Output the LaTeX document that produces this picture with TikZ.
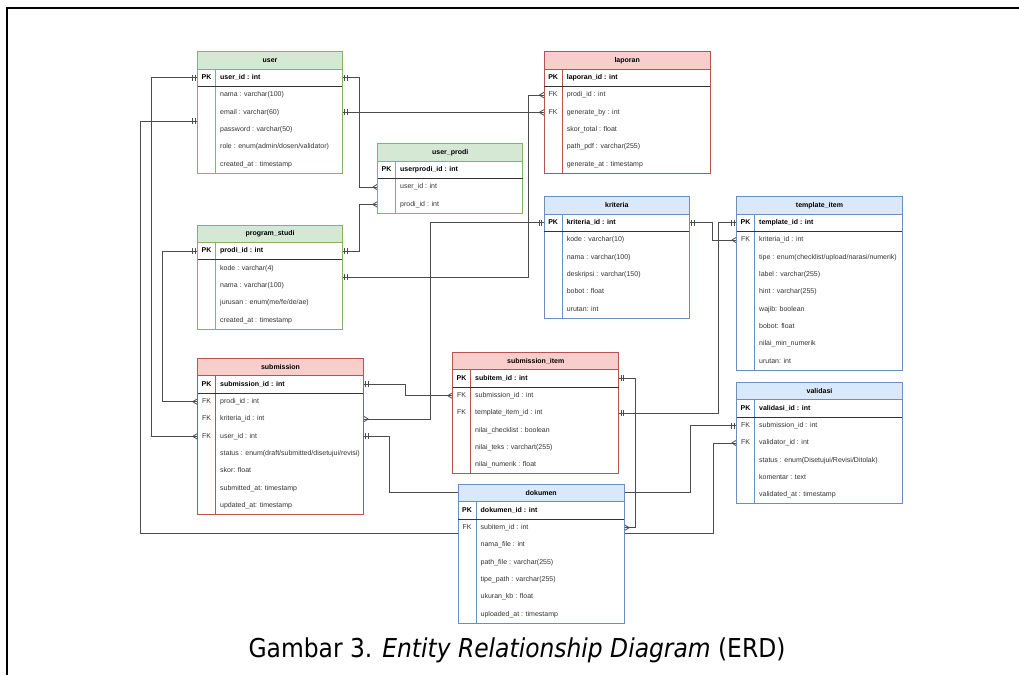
\documentclass[tikz,border=0pt]{standalone}
\usepackage{fontspec}
\usepackage{graphicx}
\setmainfont{Liberation Sans}
\newfontfamily\capfont{DejaVu Sans}
\usetikzlibrary{positioning,decorations.markings}
\definecolor{grfill}{HTML}{D5E8D4}
\definecolor{grline}{HTML}{82B366}
\definecolor{rdfill}{HTML}{F8CECC}
\definecolor{rdline}{HTML}{B85450}
\definecolor{blfill}{HTML}{DAE8FC}
\definecolor{blline}{HTML}{6C8EBF}
\pgfdeclarelayer{lines}
\pgfsetlayers{lines,main}
\tikzset{
	tblhead/.style={rectangle, anchor=north west, minimum height=17.35pt, inner sep=0pt, outer sep=0pt,
		line width=.8pt, font=\fontsize{7}{8}\selectfont\bfseries},
	tblrow/.style={rectangle, minimum height=17.35pt, inner sep=0pt, outer sep=0pt, fill=white},
	keytext/.style={inner sep=0pt, text height=5pt, text depth=1.5pt, font=\fontsize{7}{8}\selectfont, text=black!80},
	fieldtext/.style={anchor=west, inner sep=0pt, text height=5pt, text depth=1.5pt, font=\fontsize{7}{8}\selectfont, text=black!80},
	pkfield/.style={fieldtext, font=\fontsize{7}{8}\selectfont\bfseries, text=black},
	sepline/.style={draw=black!80, line width=.8pt},
	rel/.style={draw=black!70, line width=.8pt},
	oneS/.style={postaction={decorate, decoration={markings,
				mark=at position 2.5pt with {\draw[rel] (0,-3pt) -- (0,3pt);},
				mark=at position 5pt with {\draw[rel] (0,-3pt) -- (0,3pt);}}}},
	oneE/.style={postaction={decorate, decoration={markings,
				mark=at position -5pt with {\draw[rel] (0,-3pt) -- (0,3pt);},
				mark=at position -2.5pt with {\draw[rel] (0,-3pt) -- (0,3pt);}}}},
	manyS/.style={postaction={decorate, decoration={markings,
				mark=at position 5pt with {\draw[rel] (0,0) -- (-5pt,3pt) (0,0) -- (-5pt,-3pt);}}}},
	manyE/.style={postaction={decorate, decoration={markings,
				mark=at position -5pt with {\draw[rel] (0,0) -- (5pt,3pt) (0,0) -- (5pt,-3pt);}}}},
}
% table: name, top left, width, colour, title, PK field, other rows (key/field)
\newcommand{\erdtable}[7]{%
	\node[tblhead, fill=#4fill, draw=#4line, minimum width=#3] (#1) at #2 {#5};
	\node[tblrow, minimum width=#3, below=0pt of #1] (#1-1) {};
	\node[keytext, font=\fontsize{7}{8}\selectfont\bfseries, text=black] at ([xshift=8.85]#1-1.west) {PK};
	\node[pkfield, right=22.3pt of #1-1.west] {#6};
	\foreach \keyname/\fieldname [count=\i from 2] in {#7} {
		\pgfmathsetmacro\prevrow{int(\i-1)}
		\node[tblrow, minimum width=#3, below=0pt of #1-\prevrow] (#1-\i) {};
		\node[keytext] at ([xshift=8.85]#1-\i.west) {\keyname};
		\node[fieldtext, right=22.3pt of #1-\i.west] {\fieldname};
		\xdef\lastrow{\i}
	}
	\draw[#4line, line width=.8pt] (#1.south west) rectangle (#1-\lastrow.south east);
	\draw[#4line, line width=.8pt] ([xshift=17.7]#1.south west) -- ([xshift=17.7]#1-\lastrow.south west);
	\draw[sepline] (#1-1.south west) -- (#1-1.south east);
}

\begin{document}
\begin{tikzpicture}[x=1pt,y=-1pt]
	\useasboundingbox (0,0) rectangle (1019,675);
	\draw[line width=1.5pt] (7,675) -- (7,8) -- (1019,8);
	
	\erdtable{user}{(197.7,51.7)}{144.6}{gr}{user}{user\_id : int}{%
		{}/{nama : varchar(100)}, {}/{email : varchar(60)}, {}/{password : varchar(50)},
		{}/{role : enum(admin/dosen/validator)}, {}/{created\_at : timestamp}}
	\erdtable{lap}{(544.3,51.7)}{165.7}{rd}{laporan}{laporan\_id : int}{%
		FK/{prodi\_id : int}, FK/{generate\_by : int}, {}/{skor\_total : float},
		{}/{path\_pdf : varchar(255)}, {}/{generate\_at : timestamp}}
	\erdtable{up}{(377.7,143.7)}{145}{gr}{user\_prodi}{userprodi\_id : int}{%
		{}/{user\_id : int}, {}/{prodi\_id : int}}
	\erdtable{ps}{(197.7,225)}{144.6}{gr}{program\_studi}{prodi\_id : int}{%
		{}/{kode : varchar(4)}, {}/{nama : varchar(100)}, {}/{jurusan : enum(me/fe/de/ae)},
		{}/{created\_at : timestamp}}
	\erdtable{kri}{(544.3,196.7)}{145}{bl}{kriteria}{kriteria\_id : int}{%
		{}/{kode : varchar(10)}, {}/{nama : varchar(100)}, {}/{deskripsi : varchar(150)},
		{}/{bobot : float}, {}/{urutan: int}}
	\erdtable{ti}{(736.7,196.7)}{165.6}{bl}{template\_item}{template\_id : int}{%
		FK/{kriteria\_id : int}, {}/{tipe : enum(checklist/upload/narasi/numerik)},
		{}/{label : varchar(255)}, {}/{hint : varchar(255)}, {}/{wajib: boolean},
		{}/{bobot: float}, {}/{nilai\_min\_numerik}, {}/{urutan: int}}
	\erdtable{sub}{(197.7,358.3)}{165.6}{rd}{submission}{submission\_id : int}{%
		FK/{prodi\_id : int}, FK/{kriteria\_id : int}, FK/{user\_id : int},
		{}/{status : enum(draft/submitted/disetujui/revisi)}, {}/{skor: float},
		{}/{submitted\_at: timestamp}, {}/{updated\_at: timestamp}}
	\erdtable{si}{(452.7,352.3)}{166}{rd}{submission\_item}{subitem\_id : int}{%
		FK/{submission\_id : int}, FK/{template\_item\_id : int}, {}/{nilai\_checklist : boolean},
		{}/{nilai\_teks : varchart(255)}, {}/{nilai\_numerik : float}}
	\erdtable{val}{(736.7,382.3)}{165.6}{bl}{validasi}{validasi\_id : int}{%
		FK/{submission\_id : int}, FK/{validator\_id : int},
		{}/{status : enum(Disetujui/Revisi/Ditolak)}, {}/{komentar : text},
		{}/{validated\_at : timestamp}}
	\erdtable{dok}{(458.2,484.3)}{166}{bl}{dokumen}{dokumen\_id : int}{%
		FK/{subitem\_id : int}, {}/{nama\_file : int}, {}/{path\_file : varchar(255)},
		{}/{tipe\_path : varchar(255)}, {}/{ukuran\_kb : float}, {}/{uploaded\_at : timestamp}}
	
	\begin{pgfonlayer}{lines}
		\draw[rel, oneS, manyE] (user-1.east) -- ++(17,0) |- (up-2.west);
		\draw[rel, oneS, manyE] (user-3.east) -- (lap-3.west);
		\draw[rel, oneS, manyE] (ps-2.south east) -| ([xshift=-16]lap-2.west) -- (lap-2.west);
		\draw[rel, oneS, manyE] (ps-1.east) -- ++(17,0) |- (up-3.west);
		\draw[rel, oneS, manyE] (user-1.west) -- ++(-46,0) |- (sub-4.west);
		\draw[rel, oneS, manyE] (ps-1.west) -- ++(-35,0) |- (sub-2.west);
		\draw[rel, oneS, manyE] (user-3.south west) -- ++(-57,0) -- ++(0,412) -| ([xshift=-23]val-3.west) -- (val-3.west);
		\draw[rel, oneS, oneE] (sub-4.east) -- ++(26,0) -- ++(0,56) -| ([xshift=-46]val-2.west) -- (val-2.west);
		\draw[rel, oneS, manyE] (sub-1.east) -- ++(42,0) |- (si-2.west);
		\draw[rel, manyS, oneE] (sub-3.east) -- ++(67,0) |- (kri-1.west);
		\draw[rel, oneS, manyE] (kri-1.east) -- ++(23,0) |- (ti-2.west);
		\draw[rel, oneS, oneE] (si-3.east) -- ++(100,0) |- (ti-1.west);
		\draw[rel, oneS, manyE] (si-1.east) -- ++(17,0) |- (dok-2.east);
	\end{pgfonlayer}
	
	\node[anchor=base, font=\capfont\fontsize{26}{30}\selectfont] (cap) at (517,657)
		{\scalebox{0.9}[1]{Gambar 3. \textit{Entity Relationship Diagram} (ERD)}};
\end{tikzpicture}
\end{document}
